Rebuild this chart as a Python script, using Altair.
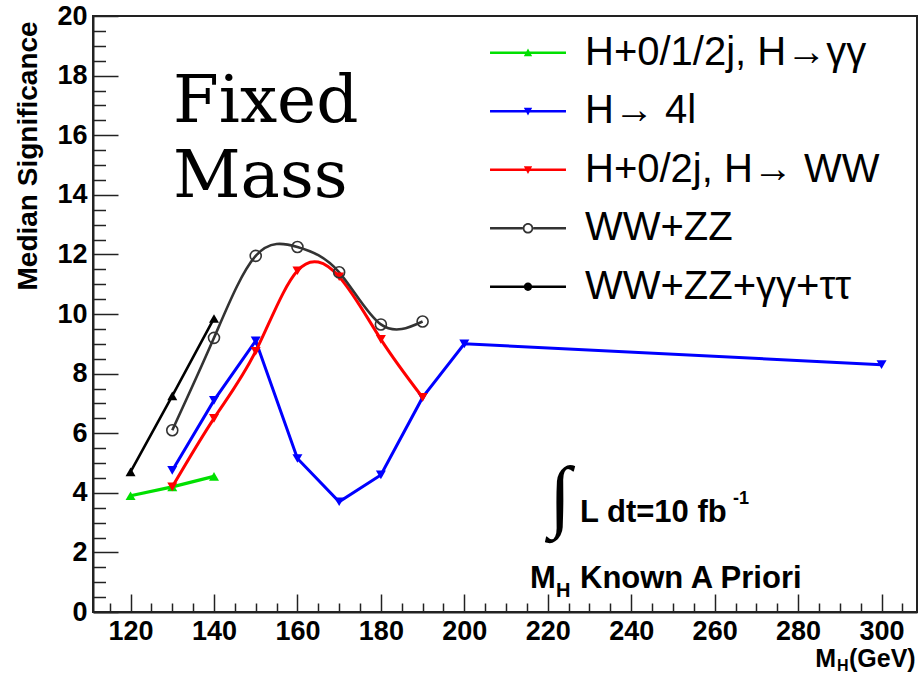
import altair as alt
import pandas as pd

# Expected median significance vs Higgs mass (GeV), 10 fb^-1, mass known a priori
mass_gg = [120, 130, 140]
sig_gg = [3.9, 4.2, 4.55]

mass_4l = [130, 140, 150, 160, 170, 180, 190, 200, 300]
sig_4l = [4.75, 7.1, 9.1, 5.15, 3.7, 4.6, 7.2, 9.0, 8.3]

mass_ww = [130, 140, 150, 160, 170, 180, 190]
sig_ww = [4.2, 6.5, 8.75, 11.45, 11.25, 9.15, 7.2]

mass_wwzz = [130, 140, 150, 160, 170, 180, 190]
sig_wwzz = [6.1, 9.2, 11.95, 12.25, 11.4, 9.65, 9.75]

mass_comb = [120, 130, 140]
sig_comb = [4.7, 7.25, 9.85]

series_names = ["H+0/1/2j, H\u2192\u03b3\u03b3", "H\u2192 4l", "H+0/2j, H\u2192 WW",
                "WW+ZZ", "WW+ZZ+\u03b3\u03b3+\u03c4\u03c4"]
series_colors = ["#00e000", "#0000ff", "#ff0000", "#333333", "#000000"]

x_major = [120, 140, 160, 180, 200, 220, 240, 260, 280, 300]
x_minor = [115, 125, 130, 135, 145, 150, 155, 165, 170, 175, 185, 190, 195, 205, 210, 215,
           225, 230, 235, 245, 250, 255, 265, 270, 275, 285, 290, 295, 305]
y_major = [0, 2, 4, 6, 8, 10, 12, 14, 16, 18, 20]
y_minor = [0.5, 1, 1.5, 2.5, 3, 3.5, 4.5, 5, 5.5, 6.5, 7, 7.5, 8.5, 9, 9.5, 10.5, 11, 11.5,
           12.5, 13, 13.5, 14.5, 15, 15.5, 16.5, 17, 17.5, 18.5, 19, 19.5]

W, H = 824, 596
FONT = "Liberation Sans"
INK = "#222222"

xs = alt.Scale(domain=[111, 308.5], nice=False, zero=False)
ys = alt.Scale(domain=[0, 20], nice=False, zero=False)


def pos(xaxis=None, yaxis=None):
    return dict(x=alt.X("mass:Q", scale=xs, axis=xaxis),
                y=alt.Y("sig:Q", scale=ys, axis=yaxis))


def curve(mass, sig, color, shape, filled, interp, lw, msize):
    df = pd.DataFrame({"mass": mass, "sig": sig})
    line = alt.Chart(df).mark_line(color=color, strokeWidth=lw,
                                   interpolate=interp).encode(**pos())
    if filled:
        pts = alt.Chart(df).mark_point(shape=shape, size=msize, filled=True,
                                       color=color, opacity=1).encode(**pos())
    else:
        pts = alt.Chart(df).mark_point(shape=shape, size=msize, filled=False,
                                       color=color, strokeWidth=1.6,
                                       opacity=1).encode(**pos())
    return line, pts


gg_line, gg_pts = curve(mass_gg, sig_gg, series_colors[0], "triangle-up", True, "linear", 3.2, 100)
l4_line, l4_pts = curve(mass_4l, sig_4l, series_colors[1], "triangle-down", True, "linear", 3, 100)
ww_line, ww_pts = curve(mass_ww, sig_ww, series_colors[2], "triangle-down", True, "natural", 3, 100)
wz_line, wz_pts = curve(mass_wwzz, sig_wwzz, series_colors[3], "circle", False, "natural", 2.6, 121)
cb_line, cb_pts = curve(mass_comb, sig_comb, series_colors[4], "triangle-up", True, "linear", 2.6, 100)

empty = pd.DataFrame({"mass": pd.Series([], dtype=float), "sig": pd.Series([], dtype=float)})

# labelled axes (no ticks), ticks are drawn inward by the helper axes below
x_main = alt.Axis(orient="bottom", values=x_major, ticks=False, tickSize=0, domain=True,
                  domainColor=INK, domainWidth=2, grid=False, labelFont=FONT,
                  labelFontSize=27, labelFontWeight="bold", labelColor="black",
                  labelPadding=6, labelFlush=False, labelOverlap=False, title=None)
y_main = alt.Axis(orient="left", values=y_major, ticks=False, tickSize=0, domain=True,
                  domainColor=INK, domainWidth=2, grid=False, labelFont=FONT,
                  labelFontSize=27, labelFontWeight="bold", labelColor="black",
                  labelPadding=6, labelFlush=False, labelOverlap=False,
                  title="Median Significance", titleFont=FONT, titleFontSize=28,
                  titleFontWeight="bold", titleColor="black", titleAngle=270,
                  titleX=-65, titleY=274, titleAlign="left", titleBaseline="middle")


def tick_axis(orient, offset, values, length):
    return alt.Axis(orient=orient, offset=offset, values=values, labels=False, domain=False,
                    grid=False, ticks=True, tickSize=length, tickWidth=1.5,
                    tickColor=INK, title=None)


main_axes = alt.Chart(empty).mark_point().encode(**pos(x_main, y_main))
major_axes = alt.Chart(empty).mark_point().encode(
    **pos(tick_axis("top", -H, x_major, 18), tick_axis("right", -W, y_major, 25)))
minor_axes = alt.Chart(empty).mark_point().encode(
    **pos(tick_axis("top", -H, x_minor, 9), tick_axis("right", -W, y_minor, 12.5)))

# legend symbols: a short line with the series marker in the middle
bar = "M-3,-0.1H3V0.1H-3Z"
split_bar = "M-3,-0.1H-0.42V0.1H-3Z M0.42,-0.1H3V0.1H0.42Z"
tri_up = "M-0.33,0.28L0,-0.33L0.33,0.28Z"
tri_dn = "M-0.33,-0.28L0.33,-0.28L0,0.33Z"
ring = ("M0.42,0A0.42,0.42 0 1,1 -0.42,0A0.42,0.42 0 1,1 0.42,0Z "
        "M0.28,0A0.28,0.28 0 1,0 -0.28,0A0.28,0.28 0 1,0 0.28,0Z")
dot = "M0.33,0A0.33,0.33 0 1,1 -0.33,0A0.33,0.33 0 1,1 0.33,0Z"
legend_paths = [bar + " " + tri_up, bar + " " + tri_dn, bar + " " + tri_dn,
                split_bar + " " + ring, bar + " " + dot]

leg = alt.Legend(orient="none", legendX=415, legendY=16.7, title=None, padding=0,
                 labelFont=FONT, labelFontSize=40, labelColor="black", labelLimit=600,
                 symbolSize=641, symbolOffset=0, labelOffset=37, rowPadding=18.5,
                 symbolStrokeWidth=0)
leg_df = pd.DataFrame({"mass": pd.Series([], dtype=float), "sig": pd.Series([], dtype=float),
                       "series": pd.Series([], dtype=str)})
legend_layer = alt.Chart(leg_df).mark_point(filled=True, opacity=1).encode(
    **pos(),
    color=alt.Color("series:N", scale=alt.Scale(domain=series_names, range=series_colors), legend=leg),
    shape=alt.Shape("series:N", scale=alt.Scale(domain=series_names, range=legend_paths), legend=leg),
)


def label(txt, x, y, size, font=FONT, weight="bold", align="left"):
    return alt.Chart(pd.DataFrame({"t": [txt]})).mark_text(
        font=font, fontSize=size, fontWeight=weight, align=align, baseline="alphabetic",
        color="black").encode(x=alt.value(x), y=alt.value(y), text="t:N")


notes = [
    label("Fixed", 80, 106, 66, font="DejaVu Serif", weight="normal"),
    label("Mass", 80, 181, 66, font="DejaVu Serif", weight="normal"),
    label("\u222b", 467, 506, 80, font="Liberation Serif", weight="normal", align="center"),
    label("L dt=10 fb", 487, 506, 31),
    label("-1", 640, 488, 18),
    label("M", 437, 572, 31),
    label("H", 463, 581, 20),
    label("Known A Priori", 487, 572, 31),
    label("M", 743, 651, 25, align="right"),
    label("H", 744, 655, 16),
    label("(GeV)", 756, 651, 25),
]

chart = alt.layer(
    main_axes, major_axes, minor_axes,
    gg_line, l4_line, cb_line, ww_line, wz_line,
    gg_pts, l4_pts, cb_pts, ww_pts, wz_pts,
    legend_layer, *notes,
).resolve_axis(x="independent", y="independent").properties(
    width=W, height=H,
    padding={"left": 93, "top": 16, "right": 2, "bottom": 62},
    autosize=alt.AutoSizeParams(type="none"),
    background="white",
).configure_view(stroke=INK, strokeWidth=2)

chart.save("out.html", embed_options={"renderer": "svg", "actions": False})
